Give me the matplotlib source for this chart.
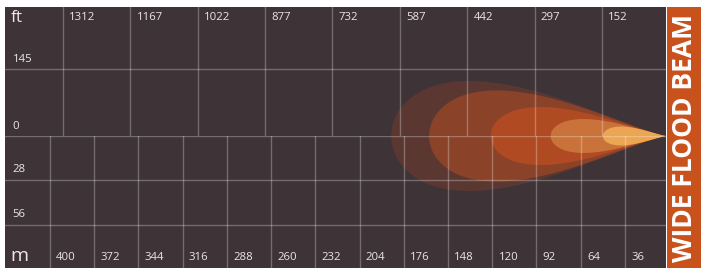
import numpy as np
import matplotlib.pyplot as plt
from matplotlib.patches import Polygon

# Data
ft_ticks = [1312, 1167, 1022, 877, 732, 587, 442, 297, 152]
ft_side = [145, 0]
m_ticks = [400, 372, 344, 316, 288, 260, 232, 204, 176, 148, 120, 92, 64, 36]
m_side = [28, 56]
# beam zones: reach from lamp (m) and half width (m)
beam_reach = [174, 150, 111, 73, 40]
beam_half = [35, 29, 18.5, 10.8, 6.0]
beam_colors = ['#5b3731', '#8a4229', '#b04a22', '#c9733b', '#eca653']

bg = '#3e3337'
grid_c = (1, 1, 1, 0.28)
txt_c = '#ece6e6'
plt.rcParams['font.family'] = ['Open Sans', 'DejaVu Sans']

W, H = 701, 268
fig = plt.figure(figsize=(W / 100, H / 100), dpi=100)
fig.patch.set_facecolor('white')

px0, px1 = 5, 666
py_top, py_mid = 7, 136
m_lim = (428.5, 10)
ft_lim = (1437, 14)
fs = 8.2

# beam layer (whole panel, metres)
axb = fig.add_axes([px0 / W, 0, (px1 - px0) / W, (H - py_top) / H])
axb.set_facecolor(bg)
axb.set_xlim(*m_lim)
axb.set_ylim(-84, 82.1)
axb.axis('off')
axb.add_patch(plt.Rectangle((0, 0), 1, 1, transform=axb.transAxes, color=bg, zorder=0))
lamp = m_lim[1]
t = np.linspace(0, np.pi, 300)
s = (1 - np.cos(t)) / 2
shape = np.sin(t) * s ** 0.75
shape = shape / shape.max()
for reach, half, c in zip(beam_reach, beam_half, beam_colors):
    xs = lamp + reach * s
    ys = half * shape
    pts = np.column_stack([np.r_[xs, xs[::-1]], np.r_[ys, -ys[::-1]]])
    axb.add_patch(Polygon(pts, closed=True, facecolor=c, edgecolor='none', zorder=2))

# top half (feet)
axt = fig.add_axes([px0 / W, (H - py_mid) / H, (px1 - px0) / W, (py_mid - py_top) / H])
axt.patch.set_alpha(0)
axt.set_xlim(*ft_lim)
axt.set_ylim(0, 279)
axt.axis('off')
for v in ft_ticks:
    axt.axvline(v, color=grid_c, lw=1)
    axt.annotate(str(v), (v, 0.915), xycoords=('data', 'axes fraction'),
                 xytext=(4.5, 0), textcoords='offset points',
                 color=txt_c, fontsize=fs, va='center', ha='left')
axt.axhline(ft_side[0], color=grid_c, lw=1)
for v in ft_side:
    axt.annotate(str(v), (0, v), xycoords=('axes fraction', 'data'),
                 xytext=(5.5, 3), textcoords='offset points',
                 color=txt_c, fontsize=fs, va='bottom', ha='left')
axt.text(0.009, 0.915, 'ft', transform=axt.transAxes, color=txt_c,
         fontsize=12.5, va='center', ha='left')

# bottom half (metres)
axm = fig.add_axes([px0 / W, 0, (px1 - px0) / W, (H - py_mid) / H])
axm.patch.set_alpha(0)
axm.set_xlim(*m_lim)
axm.set_ylim(83.4, 0)
axm.axis('off')
axm.axhline(0, color=grid_c, lw=1)
for v in m_ticks:
    axm.axvline(v, color=grid_c, lw=1)
    axm.annotate(str(v), (v, 0.076), xycoords=('data', 'axes fraction'),
                 xytext=(4.5, 0), textcoords='offset points',
                 color=txt_c, fontsize=fs, va='center', ha='left')
for v in m_side:
    axm.axhline(v, color=grid_c, lw=1)
    axm.annotate(str(v), (0, v), xycoords=('axes fraction', 'data'),
                 xytext=(5.5, 3.5), textcoords='offset points',
                 color=txt_c, fontsize=fs, va='bottom', ha='left')
axm.text(0.008, 0.09, 'm', transform=axm.transAxes, color=txt_c,
         fontsize=14, va='center', ha='left')

# side banner
axs = fig.add_axes([667 / W, 0, (W - 667) / W, (H - py_top) / H])
axs.set_facecolor('#c9521c')
axs.set_xticks([])
axs.set_yticks([])
for sp in axs.spines.values():
    sp.set_visible(False)
axs.text(0.52, 0.5, 'WIDE FLOOD BEAM', rotation=90, color='white',
         fontsize=19, fontweight='bold', ha='center', va='center',
         transform=axs.transAxes)

fig.savefig('out.png', dpi=100, facecolor='white')
